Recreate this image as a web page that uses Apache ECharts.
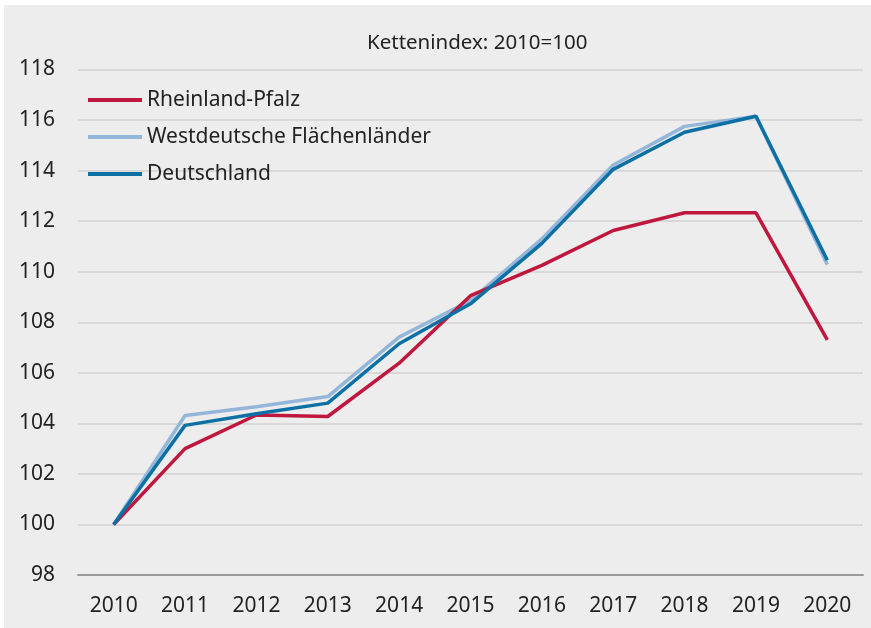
<!DOCTYPE html>
<html lang="de">
<head>
    <meta charset="UTF-8">
    <script type="text/javascript" src="https://cdn.jsdelivr.net/npm/echarts@6/dist/echarts.min.js"></script>
    <title>Kettenindex 2010=100</title>
    <style>
        html, body { margin: 0; padding: 0; background: #ffffff; }
        #main { position: absolute; left: 4px; top: 5px; width: 867px; height: 623px; }
    </style>
</head>
<body>
<div id="main"></div>
<script type="text/javascript">
    // Daten
    var years = ['2010', '2011', '2012', '2013', '2014', '2015', '2016', '2017', '2018', '2019', '2020'];
    var rlp_arr = [100, 103.0, 104.33, 104.27, 106.38, 109.05, 110.25, 111.63, 112.33, 112.33, 107.3];
    var west_arr = [100, 104.31, 104.66, 105.06, 107.41, 108.86, 111.3, 114.22, 115.75, 116.15, 110.28];
    var de_arr = [100, 103.92, 104.38, 104.8, 107.15, 108.73, 111.12, 114.05, 115.52, 116.15, 110.45];

    var fontFam = '"Noto Sans", "Open Sans", sans-serif';
    var myChart = echarts.init(document.getElementById('main'));

    var option = {
        backgroundColor: '#ededed',
        animation: false,
        title: {
            text: 'Kettenindex: 2010=100',
            left: 358,
            top: 23,
            textStyle: { fontFamily: fontFam, fontSize: 20.5, fontWeight: 'normal', color: '#222222' }
        },
        legend: {
            orient: 'vertical',
            left: 79,
            top: 79,
            icon: 'rect',
            itemWidth: 54,
            itemHeight: 4,
            itemGap: 15,
            data: ['Rheinland-Pfalz', 'Westdeutsche Flächenländer', 'Deutschland'],
            textStyle: { fontFamily: fontFam, fontSize: 21, color: '#222222', lineHeight: 22 }
        },
        grid: {
            left: 74,
            right: 8,
            top: 64.5,
            bottom: 53
        },
        xAxis: {
            type: 'category',
            boundaryGap: true,
            data: years,
            axisLine: { lineStyle: { color: '#9a9a9a', width: 2 } },
            axisTick: { show: false },
            axisLabel: { fontFamily: fontFam, fontSize: 21, color: '#222222', margin: 21 }
        },
        yAxis: {
            type: 'value',
            min: 98,
            max: 118,
            interval: 2,
            axisLine: { show: false },
            axisTick: { show: false },
            splitLine: { lineStyle: { color: '#d2d2d2', width: 1.5 } },
            axisLabel: { fontFamily: fontFam, fontSize: 21, color: '#222222', margin: 23 }
        },
        series: [
            {
                name: 'Westdeutsche Flächenländer',
                type: 'line',
                data: west_arr,
                showSymbol: false,
                color: '#94b6d9',
                lineStyle: { width: 3.5, color: '#94b6d9' }
            },
            {
                name: 'Rheinland-Pfalz',
                type: 'line',
                data: rlp_arr,
                showSymbol: false,
                color: '#c0173f',
                lineStyle: { width: 3.5, color: '#c0173f' }
            },
            {
                name: 'Deutschland',
                type: 'line',
                data: de_arr,
                showSymbol: false,
                color: '#0c70a4',
                lineStyle: { width: 3.5, color: '#0c70a4' }
            }
        ]
    };
    myChart.setOption(option);
</script>
</body>
</html>
